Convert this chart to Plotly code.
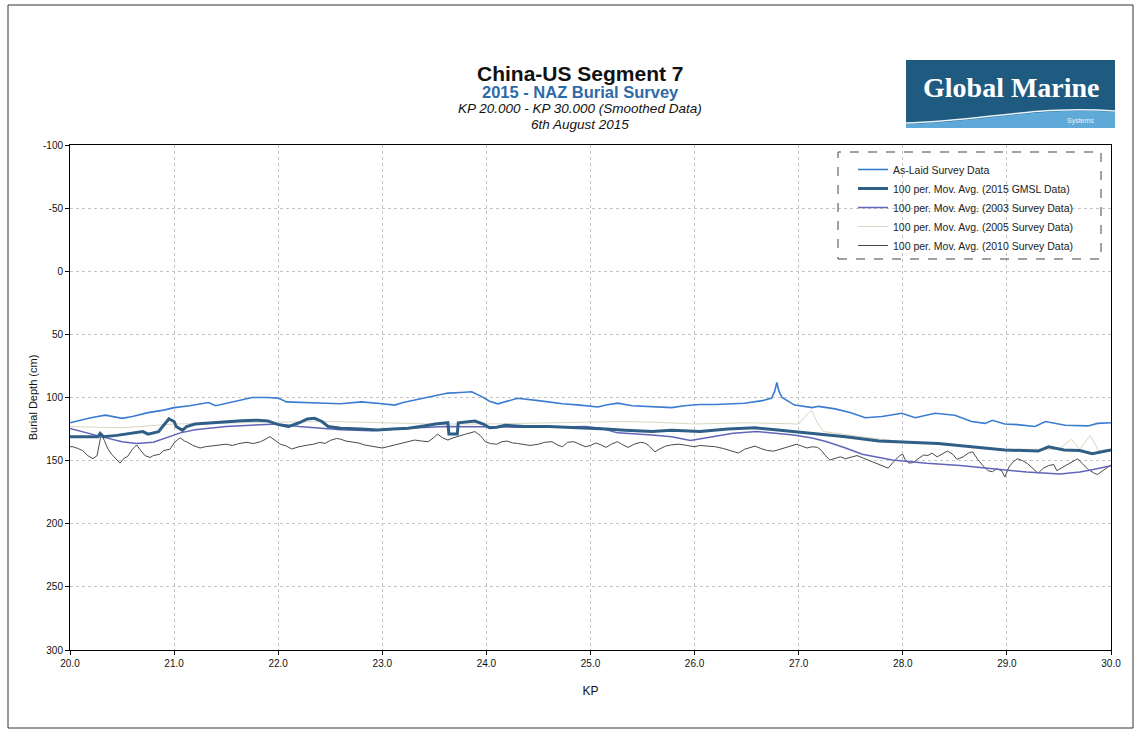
import plotly.graph_objects as go

# ---------------- DATA ----------------
aslaid_kp = [20.0, 20.1, 20.2, 20.34, 20.5, 20.6, 20.75, 20.9, 21.0, 21.15, 21.33, 21.4, 21.5, 21.6, 21.75,
             21.9, 22.0, 22.08, 22.2, 22.3, 22.45, 22.6, 22.8, 23.0, 23.12, 23.2, 23.31, 23.45, 23.63, 23.75,
             23.86, 23.96, 24.03, 24.11, 24.2, 24.3, 24.5, 24.73, 24.9, 25.07, 25.15, 25.26, 25.4, 25.6, 25.78,
             25.9, 26.05, 26.2, 26.48, 26.65, 26.74, 26.77, 26.79, 26.81, 26.84, 26.96, 27.13, 27.19, 27.35,
             27.5, 27.64, 27.8, 27.99, 28.12, 28.31, 28.5, 28.66, 28.79, 28.86, 28.98, 29.1, 29.27, 29.37,
             29.56, 29.78, 29.87, 30.0]
aslaid_depth = [120, 118, 116, 114, 116.5, 115, 112, 110, 108, 106.5, 104, 106.5, 104.5, 102.5, 100,
                100, 100.5, 103.5, 104, 104, 104.5, 105, 103.5, 105, 106, 104, 102, 100, 96.5, 96,
                95.5, 99.5, 103, 105, 103, 100.6, 102.5, 105, 106, 107.5, 106, 104.5, 106.5, 107, 108,
                106.5, 105.5, 105.5, 104.5, 102.5, 100.5, 95, 88, 95, 100, 106, 108, 107, 109,
                112, 116, 115, 112.5, 116, 112.5, 114, 119, 120.5, 118, 121, 121.5, 123, 119,
                122, 122.5, 120.5, 120]

gmsl2015_kp = [20.0, 20.1, 20.2, 20.27, 20.29, 20.32, 20.45, 20.6, 20.7, 20.75, 20.85, 20.9, 20.95, 21.0,
               21.02, 21.08, 21.12, 21.2, 21.35, 21.5, 21.65, 21.8, 21.9, 22.0, 22.1, 22.2, 22.28, 22.35,
               22.42, 22.48, 22.6, 22.8, 22.95, 23.1, 23.25, 23.4, 23.51, 23.63, 23.64, 23.72, 23.73, 23.89,
               23.97, 24.03, 24.1, 24.18, 24.37, 24.6, 24.95, 25.15, 25.33, 25.59, 25.78, 26.05, 26.32,
               26.58, 26.8, 27.13, 27.45, 27.77, 28.07, 28.34, 28.66, 28.98, 29.3, 29.4, 29.55, 29.7,
               29.82, 29.9, 30.0]
gmsl2015_depth = [131, 131, 131.5, 131, 128.5, 131, 130, 128.5, 127, 129, 127, 122, 117, 119,
                  123, 126, 123, 121, 120, 119.5, 118.5, 118, 118.5, 121.5, 123, 120, 117, 116.5,
                  119, 123, 124.3, 125, 125.7, 125, 124.3, 122.5, 121, 120, 129, 129, 120, 118.7,
                  121, 124, 123.5, 122, 123, 123, 124, 125, 126, 127, 126, 127, 125,
                  124, 125.7, 128.4, 131, 134.5, 135.5, 136.4, 139, 141.6, 142.4, 139, 141.5, 142,
                  144.5, 143, 141.6]

s2003_kp = [20.0, 20.15, 20.3, 20.5, 20.64, 20.8, 20.96, 21.06, 21.2, 21.5, 21.83, 22.0, 22.2, 22.4, 22.6,
            22.9, 23.25, 23.6, 24.0, 24.3, 24.6, 24.95, 25.1, 25.26, 25.59, 25.78, 25.96, 26.1, 26.37,
            26.6, 26.95, 27.13, 27.27, 27.45, 27.61, 27.9, 28.23, 28.55, 28.87, 29.19, 29.51, 29.7,
            29.83, 30.0]
s2003_depth = [124.5, 128, 131, 135, 136.4, 135.5, 131, 128, 125.5, 123, 121.5, 121, 123, 124.5, 125.6,
               126.4, 124.3, 123, 123.5, 123.5, 123.5, 123, 124.4, 128, 129.7, 131, 134, 132, 128.4,
               127, 129.7, 132, 135, 140, 145, 149.5, 152, 153.8, 156.5, 159, 160.5, 159,
               157, 154]

s2005_kp = [20.0, 20.5, 21.0, 21.5, 22.0, 22.5, 23.0, 23.5, 24.0, 24.5, 25.0, 25.3, 25.6, 26.0, 26.5,
            27.0, 27.12, 27.18, 27.24, 27.6, 28.0, 28.5, 29.0, 29.5, 29.62, 29.7, 29.8, 29.88, 30.0]
s2005_depth = [123, 124, 121, 120, 119.5, 119, 120, 121, 121, 120, 119.5, 119, 119.5, 121, 120,
               121, 110, 120, 127, 131, 135, 138, 141, 141, 133, 141, 130, 142, 141]

s2010_kp = [20.0, 20.03, 20.08, 20.12, 20.17, 20.22, 20.26, 20.28, 20.3, 20.33, 20.36, 20.4, 20.45, 20.48,
            20.52, 20.55, 20.6, 20.64, 20.68, 20.72, 20.77, 20.8, 20.86, 20.9, 20.96, 21.0, 21.04, 21.06,
            21.1, 21.12, 21.18, 21.25, 21.3, 21.38, 21.45, 21.5, 21.56, 21.62, 21.7, 21.76, 21.83, 21.88,
            21.92, 21.97, 22.02, 22.08, 22.13, 22.2, 22.25, 22.29, 22.34, 22.4, 22.45, 22.5, 22.56, 22.6,
            22.65, 22.71, 22.77, 22.83, 22.9, 22.96, 23.0, 23.05, 23.1, 23.15, 23.2, 23.25, 23.31, 23.38,
            23.44, 23.49, 23.53, 23.58, 23.63, 23.68, 23.73, 23.8, 23.89, 23.94, 23.99, 24.04, 24.1, 24.15,
            24.2, 24.25, 24.3, 24.36, 24.42, 24.5, 24.56, 24.63, 24.68, 24.73, 24.78, 24.84, 24.9, 24.95,
            25.0, 25.05, 25.1, 25.15, 25.2, 25.26, 25.3, 25.36, 25.42, 25.48, 25.52, 25.56, 25.6, 25.62,
            25.66, 25.72, 25.78, 25.85, 25.9, 25.95, 26.0, 26.05, 26.12, 26.2, 26.28, 26.35, 26.42, 26.48,
            26.53, 26.58, 26.64, 26.7, 26.76, 26.82, 26.88, 26.94, 26.98, 27.03, 27.08, 27.13, 27.18,
            27.22, 27.25, 27.3, 27.35, 27.4, 27.45, 27.5, 27.56, 27.62, 27.68, 27.73, 27.8, 27.86, 27.9,
            27.94, 27.97, 28.0, 28.02, 28.06, 28.1, 28.14, 28.2, 28.24, 28.28, 28.33, 28.38, 28.43, 28.48,
            28.52, 28.58, 28.63, 28.67, 28.72, 28.78, 28.82, 28.86, 28.9, 28.95, 28.98, 29.02, 29.06,
            29.1, 29.15, 29.2, 29.25, 29.3, 29.35, 29.4, 29.45, 29.48, 29.52, 29.58, 29.64, 29.68, 29.72,
            29.78, 29.84, 29.87, 29.92, 29.96, 30.0]
s2010_depth = [139, 139, 140.5, 142, 146, 148.5, 146, 136, 129, 134, 140, 145, 149.5, 152,
               148, 147, 141, 137.6, 142, 146, 147.5, 146, 145, 142, 141, 136, 133, 132,
               134.5, 135, 138, 140, 139, 138.5, 137.5, 137, 138, 136.5, 135.5, 136.5, 135, 133,
               131, 134, 137, 138.5, 140.8, 139, 138, 137.6, 137, 135.5, 136.4, 134, 132.5, 133,
               134.5, 135, 136, 137.6, 138.5, 139.5, 140, 139, 138, 136.4, 135.5, 134.5, 133.7, 134.5,
               135, 132, 129, 132, 133.7, 132, 131, 129, 127, 130, 135, 136.5, 137, 135,
               134.5, 136, 136.4, 137, 138, 137, 135.5, 135, 137.5, 139, 135.5, 135, 137, 139,
               138, 136, 137.5, 139.5, 137, 135, 137, 139.5, 137, 135.5, 136, 138, 141.5, 143,
               141, 138.5, 137.5, 137, 137.6, 138, 139, 138, 138.5, 139, 140.5, 142, 144, 141,
               140, 138.5, 140.5, 142, 142.5, 141, 139, 137.6, 137, 138.5, 140, 139, 139.5,
               142, 145.5, 149.5, 148, 147, 148.5, 147.5, 146, 148, 150, 152, 154, 156, 152,
               149, 146, 145, 149, 152, 151.5, 149, 145.5, 146, 144, 147, 145, 142.4, 145,
               149, 147, 144, 143, 149, 155, 158, 158.8, 156.5, 158, 163, 155, 151,
               148.5, 150, 152.5, 156, 160, 156, 154, 153, 158, 156, 153, 150, 148.5, 152,
               157, 160, 161, 158, 156, 153.5]

series_names = ["As-Laid Survey Data",
                "100 per. Mov. Avg. (2015 GMSL Data)",
                "100 per. Mov. Avg. (2003 Survey Data)",
                "100 per. Mov. Avg. (2005 Survey Data)",
                "100 per. Mov. Avg. (2010 Survey Data)"]

y_tick_values = [-100, -50, 0, 50, 100, 150, 200, 250, 300]
y_tick_labels = ["-100", "-50", "0", "50", "100", "150", "200", "250", "300"]
x_tick_values = [20, 21, 22, 23, 24, 25, 26, 27, 28, 29, 30]
x_tick_labels = ["20.0", "21.0", "22.0", "23.0", "24.0", "25.0", "26.0", "27.0", "28.0", "29.0", "30.0"]

title_lines = ["China-US Segment 7", "2015 - NAZ Burial Survey",
               "KP 20.000 - KP 30.000 (Smoothed Data)", "6th August 2015"]

# ---------------- LAYOUT HELPERS ----------------
W, H = 1136, 731
ML, MR, MT, MB = 70, 25, 145, 81
PW = W - ML - MR
PH = H - MT - MB


def pxx(x):
    return (x - ML) / PW


def pxy(y):
    return (H - MB - y) / PH


FONT = "Liberation Sans, Arial, sans-serif"

fig = go.Figure()

# draw order: 2010, 2005, 2003, As-laid, 2015 ; legend order via legendrank
fig.add_trace(go.Scatter(x=s2010_kp, y=s2010_depth, mode="lines", name=series_names[4],
                         line=dict(color="#4a4a4a", width=1), legendrank=5))
fig.add_trace(go.Scatter(x=s2005_kp, y=s2005_depth, mode="lines", name=series_names[3],
                         line=dict(color="#dcd5c2", width=1), legendrank=4))
fig.add_trace(go.Scatter(x=s2003_kp, y=s2003_depth, mode="lines", name=series_names[2],
                         line=dict(color="#6266b8", width=1.5), legendrank=3))
fig.add_trace(go.Scatter(x=aslaid_kp, y=aslaid_depth, mode="lines", name=series_names[0],
                         line=dict(color="#3a7cd2", width=1.6), legendrank=1))
fig.add_trace(go.Scatter(x=gmsl2015_kp, y=gmsl2015_depth, mode="lines", name=series_names[1],
                         line=dict(color="#2f5f86", width=3), legendrank=2))

axis_common = dict(showgrid=True, gridcolor="#c4c4c4", griddash="dot", gridwidth=1,
                   showline=True, linecolor="black", linewidth=1, mirror=True,
                   ticks="outside", ticklen=4, tickcolor="black", zeroline=False,
                   tickfont=dict(family=FONT, size=10, color="#111"))

fig.update_layout(
    width=W, height=H,
    margin=dict(l=ML, r=MR, t=MT, b=MB),
    paper_bgcolor="white", plot_bgcolor="white",
    font=dict(family=FONT, color="#222"),
    xaxis=dict(range=[20, 30], tickmode="array", tickvals=x_tick_values, ticktext=x_tick_labels,
               title=dict(text="KP", font=dict(family=FONT, size=12, color="#111"), standoff=18),
               **axis_common),
    yaxis=dict(range=[300, -100], tickmode="array", tickvals=y_tick_values, ticktext=y_tick_labels,
               title=dict(text="Burial Depth (cm)", font=dict(family=FONT, size=11, color="#111"), standoff=3),
               **axis_common),
    legend=dict(x=pxx(853), y=pxy(155), xanchor="left", yanchor="top",
                bgcolor="rgba(0,0,0,0)", borderwidth=0,
                font=dict(family=FONT, size=10.5, color="#222"),
                tracegroupgap=0, itemwidth=30),
    showlegend=True,
)

shapes = []
# dashed legend border
shapes.append(dict(type="rect", xref="paper", yref="paper",
                   x0=pxx(838), x1=pxx(1101), y0=pxy(259), y1=pxy(152),
                   line=dict(color="#444", width=1, dash="dash"), fillcolor="rgba(0,0,0,0)"))
# outer frame
shapes.append(dict(type="rect", xref="paper", yref="paper",
                   x0=pxx(8), x1=pxx(1133), y0=pxy(728), y1=pxy(5),
                   line=dict(color="#333", width=1), fillcolor="rgba(0,0,0,0)", layer="below"))
# logo box
lx0, lx1, ly0, ly1 = 906, 1115, 60, 128
shapes.append(dict(type="rect", xref="paper", yref="paper",
                   x0=pxx(lx0), x1=pxx(lx1), y0=pxy(ly1), y1=pxy(ly0),
                   line=dict(width=0), fillcolor="#1f5a80"))
wave = (f"M {pxx(lx0)},{pxy(ly1)} L {pxx(lx0)},{pxy(124)} "
        f"C {pxx(980)},{pxy(122)} {pxx(1040)},{pxy(106)} {pxx(lx1)},{pxy(112)} "
        f"L {pxx(lx1)},{pxy(ly1)} Z")
shapes.append(dict(type="path", xref="paper", yref="paper", path=wave,
                   line=dict(width=0), fillcolor="#5fa9d8"))
wave_line = (f"M {pxx(lx0)},{pxy(123)} "
             f"C {pxx(980)},{pxy(121)} {pxx(1040)},{pxy(105)} {pxx(lx1)},{pxy(111)}")
shapes.append(dict(type="path", xref="paper", yref="paper", path=wave_line,
                   line=dict(color="#e8f4fb", width=1.5)))
fig.update_layout(shapes=shapes)

ann = []
tx = pxx(580)
common = dict(xref="paper", yref="paper", showarrow=False, xanchor="center", yanchor="middle")
ann.append(dict(x=tx, y=pxy(73), text=f"<b>{title_lines[0]}</b>",
                font=dict(family=FONT, size=21, color="#111"), **common))
ann.append(dict(x=tx, y=pxy(92), text=f"<b>{title_lines[1]}</b>",
                font=dict(family=FONT, size=16.5, color="#2f6aa8"), **common))
ann.append(dict(x=tx, y=pxy(109), text=f"<i>{title_lines[2]}</i>",
                font=dict(family=FONT, size=13.5, color="#111"), **common))
ann.append(dict(x=tx, y=pxy(125), text=f"<i>{title_lines[3]}</i>",
                font=dict(family=FONT, size=13.5, color="#111"), **common))
ann.append(dict(x=pxx(1011), y=pxy(88), text="<b>Global Marine</b>",
                font=dict(family="Liberation Serif, Times New Roman, serif", size=28, color="white"),
                **common))
ann.append(dict(x=pxx(1080), y=pxy(121), text="Systems",
                font=dict(family=FONT, size=7, color="#e8f4fb"), **common))
fig.update_layout(annotations=ann)

fig.write_html("out.html")
